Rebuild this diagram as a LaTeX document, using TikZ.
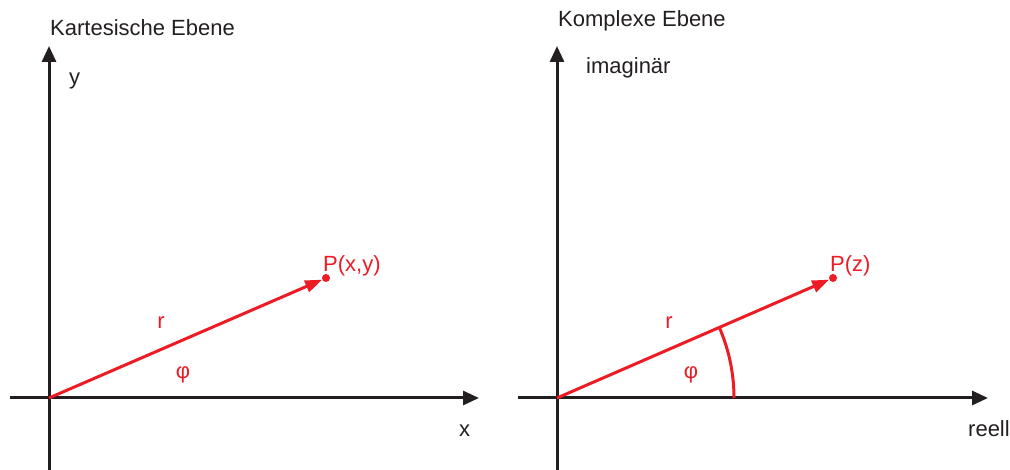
\documentclass[tikz,border=0pt]{standalone}
\usepackage{fontspec}
\setmainfont{Liberation Sans}
\usetikzlibrary{arrows.meta}
\definecolor{myred}{RGB}{237,28,36}
\definecolor{myblack}{RGB}{35,31,32}
\begin{document}
\begin{tikzpicture}[x=1pt,y=1pt,
  axis/.style={draw=myblack,line width=3pt,-{Triangle[length=16pt,width=14pt]}},
  vec/.style={draw=myred,line width=3pt,-{Triangle[length=17pt,width=12pt]}},
  dotnode/.style={circle,fill=myred,inner sep=0pt,minimum size=8pt},
  lbl/.style={font=\fontsize{22}{26}\selectfont,text=myblack,inner sep=0pt},
  rlbl/.style={font=\fontsize{22}{26}\selectfont,text=myred,inner sep=0pt}]
\useasboundingbox (0,0) rectangle (1010,470);
% left panel
\coordinate (O1) at (49,72);
\coordinate (yb1) at (49,0);
\coordinate (yt1) at (49,424);
\coordinate (xl1) at (10,72);
\coordinate (xt1) at (479,72);
\draw[axis] (yb1) -- (yt1);
\draw[axis] (xl1) -- (xt1);
\node[dotnode] (P1) at (326,192) {};
\draw[vec] (O1) -- (P1);
\node[rlbl,anchor=base west] (P1l) at (323,198) {P(x,y)};
\node[rlbl] (r1) at (161,147) {r};
\node[rlbl] (phi1) at (183,95) {φ};
\node[lbl,anchor=base west] (ylab) at (69,385) {y};
\node[lbl,anchor=base west] (xlab) at (459,33) {x};
\node[lbl,anchor=base west] (t1) at (50,434) {Kartesische Ebene};
% right panel
\coordinate (O2) at (557,72);
\coordinate (yb2) at (557,0);
\coordinate (yt2) at (557,424);
\coordinate (xl2) at (518,72);
\coordinate (xt2) at (988,72);
\draw[axis] (yb2) -- (yt2);
\draw[axis] (xl2) -- (xt2);
\node[dotnode] (P2) at (833,192) {};
\draw[vec] (O2) -- (P2);
\draw[myred,line width=3pt] (734,72) arc[start angle=0,end angle=23.5,radius=177];
\node[rlbl,anchor=base west] (P2l) at (830,198) {P(z)};
\node[rlbl] (r2) at (669,147) {r};
\node[rlbl] (phi2) at (691,95) {φ};
\node[lbl,anchor=base west] (im) at (586,396) {imaginär};
\node[lbl,anchor=base west] (re) at (968,33) {reell};
\node[lbl,anchor=base west] (t2) at (558,443) {Komplexe Ebene};
\end{tikzpicture}
\end{document}
